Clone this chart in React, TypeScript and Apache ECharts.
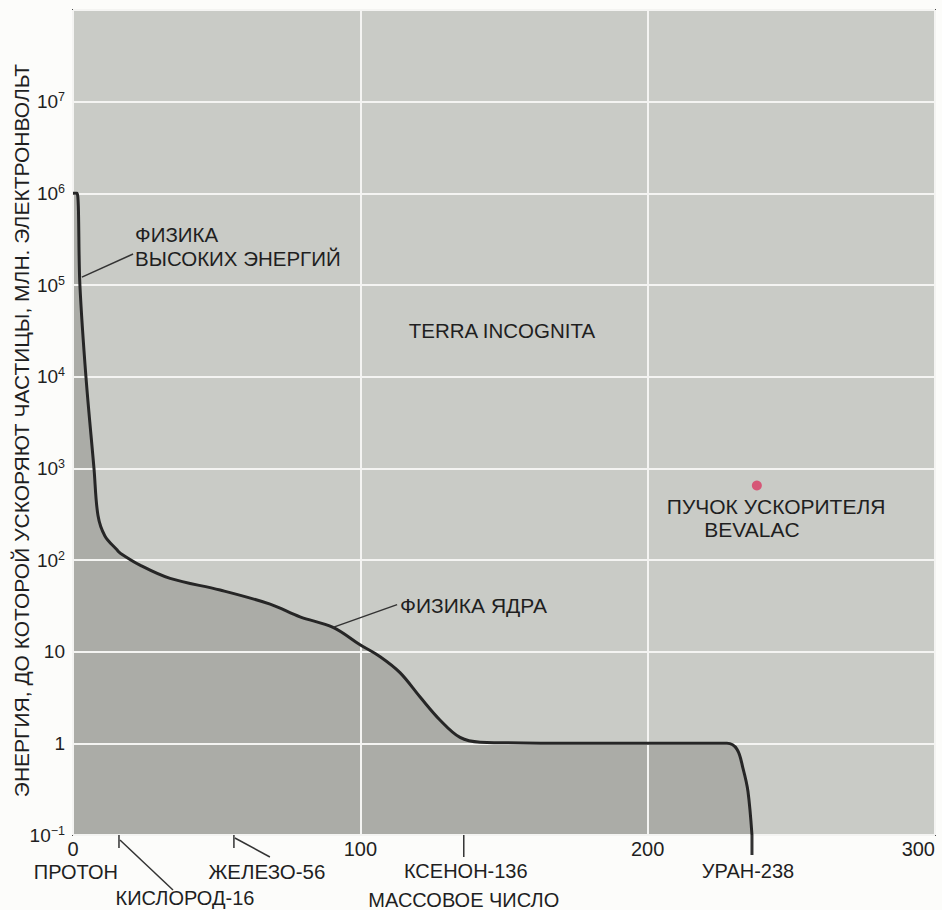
import React, { useEffect, useRef } from 'react';
import * as echarts from 'echarts';

// Mass number (A) of the accelerated particle vs the energy reached (MeV)
const massNumbers = [0, 1.4, 2.4, 4.5, 7.3, 8.7, 11.1, 15.3, 16.4, 23.3, 33.8, 51.2, 68.6, 79, 90.5, 99.9, 106.9, 113.8, 120.8, 127.7, 134.7, 141.7, 176.5, 227.6, 231.1, 233.2, 234.9, 236.3];
const energies = [1e6, 1e6, 1e5, 1e4, 1e3, 305, 183, 129, 119, 88, 63, 47, 33, 24, 18.4, 11.9, 8.8, 5.9, 3.2, 1.8, 1.16, 1.03, 1.0, 1.0, 0.86, 0.53, 0.3, 0.1];

const bevalacBeam = [238, 650];

const xTicks = [0, 100, 200, 300];
const yExponents = [-1, 0, 1, 2, 3, 4, 5, 6, 7];

const elementMass = [1, 16, 56, 136, 238];
const elementNames = ['ПРОТОН', 'КИСЛОРОД-16', 'ЖЕЛЕЗО-56', 'КСЕНОН-136', 'УРАН-238'];

const FONT = '"Liberation Sans", Arial, sans-serif';
const TXT = '#1f1f1f';

export default function App() {
  const ref = useRef<HTMLDivElement>(null);
  useEffect(() => {
    const chart = echarts.init(ref.current!, null, { renderer: 'svg' });
    const curve = massNumbers.map((a, i) => [a, energies[i]]);
    const yLabel = (v: number) => {
      const e = Math.round(Math.log10(v));
      if (!yExponents.includes(e)) return '';
      if (e === 0) return '{b|1}';
      if (e === 1) return '{b|10}';
      return '{b|10}{s|' + (e < 0 ? '−' + -e : e) + '}';
    };
    chart.setOption({
      animation: false,
      backgroundColor: '#fcfcfa',
      textStyle: { fontFamily: FONT },
      grid: {
        left: 73, right: 7, top: 10, bottom: 75, containLabel: false, outerBoundsMode: 'none',
        show: true, backgroundColor: '#c9cbc6', borderColor: '#4a4a4a', borderWidth: 2,
      },
      xAxis: {
        type: 'value', min: xTicks[0], max: xTicks[xTicks.length - 1], interval: 100, z: 3,
        axisLine: { show: false }, axisTick: { show: false },
        splitLine: { show: true, lineStyle: { color: '#f4f4f2', width: 2 } },
        axisLabel: { fontSize: 20, color: TXT, margin: 4, alignMaxLabel: 'right', fontFamily: FONT },
      },
      yAxis: {
        type: 'log', logBase: 10, min: 0.1, max: 1e8, z: 3,
        axisLine: { show: false }, axisTick: { show: false },
        splitLine: { show: true, lineStyle: { color: '#f4f4f2', width: 2 } },
        axisLabel: {
          formatter: yLabel, margin: 8, color: TXT,
          rich: {
            b: { fontSize: 19, color: TXT, fontFamily: FONT },
            s: { fontSize: 12.5, color: TXT, fontFamily: FONT, padding: [0, 0, 9, 0] },
          },
        },
      },
      series: [
        {
          type: 'line', data: curve, showSymbol: false, smooth: 0.35,
          lineStyle: { width: 0 }, areaStyle: { color: '#abaca7', opacity: 1, origin: 'start' }, z: 1,
        },
        {
          type: 'line', data: curve, showSymbol: false, smooth: 0.35,
          lineStyle: { width: 3, color: '#262626' }, z: 5,
        },
        {
          type: 'scatter', data: [bevalacBeam], symbolSize: 10, itemStyle: { color: '#d93a63' }, z: 6,
        },
      ],
    });

    const p = (x: number, y: number) => chart.convertToPixel({ gridIndex: 0 }, [x, y]) as number[];
    const axisY = p(0, 0.1)[1];
    const text = (t: string, x: number, y: number, align = 'center', size = 20, lh = size) => ({
      type: 'text', z: 100,
      style: { text: t, x, y, fill: TXT, font: `normal ${size}px ${FONT}`, textAlign: align, align, textVerticalAlign: 'middle', verticalAlign: 'middle', lineHeight: lh },
    });
    const line = (x1: number, y1: number, x2: number, y2: number, w = 1.5) => ({
      type: 'line', z: 100, shape: { x1, y1, x2, y2 }, style: { stroke: '#333', lineWidth: w },
    });
    const xs = elementMass.map((m) => p(m, 1)[0]);
    const hi = p(3.1, 1.22e5);
    const hiEnd = p(20.9, 2.18e5);
    const nuc = p(90.5, 18.4);
    const nucEnd = p(112.8, 32.6);
    const uEnd = p(massNumbers[massNumbers.length - 1], 0.1);
    const terra = p(149.3, 3.2e4);
    const hiTxt = p(21.6, 2.6e5);
    const nucTxt = p(113.8, 31.8);
    const bev1 = p(244.7, 385);
    const bev2 = p(236.3, 216);
    const yMid = (p(0, 1e8)[1] + axisY) / 2 + 8;

    chart.setOption({
      graphic: [
        {
          type: 'text', z: 100, x: 21, y: yMid, rotation: Math.PI / 2,
          style: {
            text: 'ЭНЕРГИЯ, ДО КОТОРОЙ УСКОРЯЮТ ЧАСТИЦЫ, МЛН. ЭЛЕКТРОНВОЛЬТ', x: 0, y: 0,
            fill: TXT, font: `normal 21px ${FONT}`, textAlign: 'center', align: 'center',
            textVerticalAlign: 'middle', verticalAlign: 'middle',
          },
        },
        text('TERRA INCOGNITA', terra[0], terra[1], 'center', 20.5),
        text('ФИЗИКА\nВЫСОКИХ ЭНЕРГИЙ', hiTxt[0], hiTxt[1], 'left', 20.5, 24),
        line(hi[0], hi[1], hiEnd[0], hiEnd[1]),
        text('ФИЗИКА ЯДРА', nucTxt[0], nucTxt[1], 'left', 21),
        line(nuc[0], nuc[1], nucEnd[0], nucEnd[1]),
        text('ПУЧОК УСКОРИТЕЛЯ', bev1[0], bev1[1], 'center', 21),
        text('BEVALAC', bev2[0], bev2[1], 'center', 21),
        // element labels under the axis
        text(elementNames[0], xs[0], axisY + 37),
        line(xs[1], axisY, xs[1], axisY + 13),
        line(xs[1] + 1, axisY + 5, xs[1] + 54, axisY + 55),
        text(elementNames[1], xs[1] + 66, axisY + 63),
        line(xs[2], axisY, xs[2], axisY + 13),
        line(xs[2] + 1, axisY + 3, xs[2] + 36, axisY + 22),
        text(elementNames[2], xs[2] + 33, axisY + 36, 'center', 20.5),
        line(xs[3], axisY, xs[3], axisY + 22),
        text(elementNames[3], xs[3] + 2, axisY + 36),
        line(uEnd[0], axisY, uEnd[0], axisY + 20, 3),
        text(elementNames[4], uEnd[0] - 4, axisY + 36),
        text('МАССОВОЕ ЧИСЛО', p(136, 1)[0], axisY + 65),
      ],
    });
    return () => chart.dispose();
  }, []);
  return <div ref={ref} style={{ position: 'fixed', left: 0, top: 0, width: 942, height: 910 }} />;
}
